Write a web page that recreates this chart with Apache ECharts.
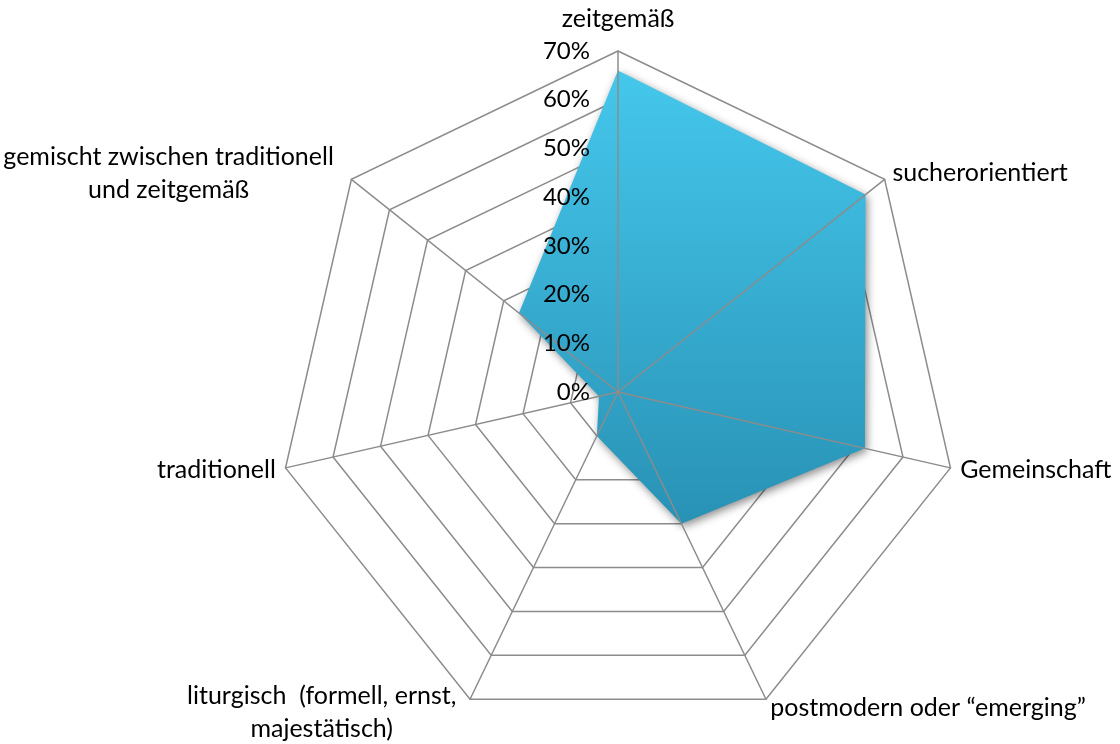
<!DOCTYPE html>
<html>
<head>
<meta charset="utf-8">
<script src="https://cdn.jsdelivr.net/npm/echarts@6/dist/echarts.min.js"></script>
<style>
  html, body { margin: 0; padding: 0; background: #fff; }
  #chart { width: 1120px; height: 744px; }
</style>
</head>
<body>
<div id="chart"></div>
<script>
// Achsen im Uhrzeigersinn, beginnend oben
var categories = ['zeitgemäß', 'sucherorientiert', 'Gemeinschaft', 'postmodern oder \u201cemerging\u201d',
    'liturgisch  (formell, ernst,\nmajestätisch)', 'traditionell', 'gemischt zwischen traditionell\nund zeitgemäß'];
var values = [66, 65, 52, 30, 10, 4, 26];
var ticks = [0, 10, 20, 30, 40, 50, 60, 70];

var maxVal = 70;
var cx = 618, cy = 392, R = 341;
var font = 'Lato';
var fs = 25;

// ECharts legt Radar-Achsen gegen den Uhrzeigersinn an -> Reihenfolge umdrehen (erste bleibt oben)
var order = [0];
for (var i = categories.length - 1; i > 0; i--) order.push(i);
var indicator = order.map(function(i) { return { name: categories[i], min: 0, max: maxVal }; });
var radarValues = order.map(function(i) { return values[i]; });

var gridColor = '#8c8c8c';

var option = {
    animation: false,
    grid: {
        left: cx,
        right: 1120 - cx - 1,
        top: cy - R,
        bottom: 744 - cy,
        z: 20
    },
    xAxis: { type: 'value', show: false, min: 0, max: 1 },
    yAxis: {
        type: 'value',
        position: 'left',
        z: 20,
        min: ticks[0],
        max: ticks[ticks.length - 1],
        interval: 10,
        axisLine: { show: false },
        axisTick: { show: false },
        splitLine: { show: false },
        axisLabel: {
            margin: 28,
            formatter: '{value}%',
            color: '#000',
            fontSize: 24,
            fontFamily: font
        }
    },
    radar: [{
        center: [cx, cy],
        radius: R,
        startAngle: 90,
        shape: 'polygon',
        splitNumber: 7,
        indicator: indicator,
        nameGap: 10,
        axisName: {
            color: '#000',
            fontSize: fs,
            fontFamily: font,
            formatter: function(name) {
                if (name.indexOf('gemischt') === 0) return '{c|' + name + '}';
                if (name.indexOf('liturgisch') === 0) return '{l|' + name + '}';
                if (name.indexOf('zeitgem') === 0) return '{z|' + name + '}';
                return name;
            },
            rich: {
                c: { align: 'center', width: 322, fontSize: fs, fontFamily: font, color: '#000', lineHeight: 33, padding: [0, 14, 0, 0] },
                l: { align: 'center', width: 272, fontSize: fs, fontFamily: font, color: '#000', lineHeight: 33, padding: [8, 8, 0, 0] },
                z: { fontSize: fs, fontFamily: font, color: '#000', padding: [0, 0, 10, 0] }
            }
        },
        splitArea: { show: false },
        splitLine: { lineStyle: { color: gridColor, width: 1.5 } },
        axisLine: { show: false }
    }, {
        center: [cx, cy],
        radius: R,
        startAngle: 90,
        shape: 'polygon',
        splitNumber: 7,
        indicator: indicator.map(function(d) { return { name: '', min: 0, max: maxVal }; }),
        z: 10,
        axisName: { show: false },
        splitArea: { show: false },
        splitLine: { show: false },
        axisLine: { lineStyle: { color: gridColor, width: 1.5 } }
    }],
    series: [{
        type: 'radar',
        radarIndex: 0,
        symbol: 'none',
        lineStyle: { width: 0 },
        areaStyle: {
            opacity: 1,
            color: new echarts.graphic.LinearGradient(0, 0, 0, 1, [
                { offset: 0, color: '#45c7ec' },
                { offset: 1, color: '#2892b5' }
            ]),
            shadowBlur: 8,
            shadowColor: 'rgba(0,0,0,0.45)',
            shadowOffsetX: 2,
            shadowOffsetY: 3
        },
        data: [{ value: radarValues, name: 'Anteil' }]
    }]
};

var myChart = echarts.init(document.getElementById('chart'));
myChart.setOption(option);
</script>
</body>
</html>
